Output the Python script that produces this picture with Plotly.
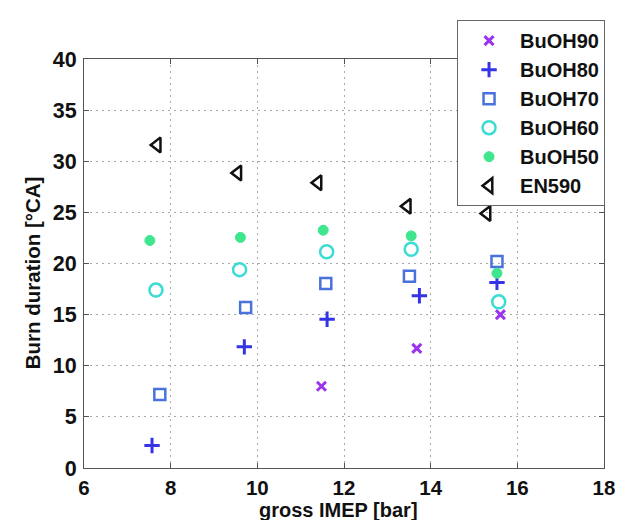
import plotly.graph_objects as go

# ---- data ----
x_buoh90 = [11.48, 13.68, 15.61]
y_buoh90 = [8.0, 11.7, 15.0]

x_buoh80 = [7.57, 9.70, 11.61, 13.74, 15.53]
y_buoh80 = [2.2, 11.85, 14.55, 16.85, 18.15]

x_buoh70 = [7.75, 9.73, 11.58, 13.51, 15.53]
y_buoh70 = [7.2, 15.7, 18.05, 18.75, 20.2]

x_buoh60 = [7.66, 9.59, 11.60, 13.55, 15.57]
y_buoh60 = [17.4, 19.4, 21.15, 21.4, 16.25]

x_buoh50 = [7.52, 9.61, 11.52, 13.55, 15.53]
y_buoh50 = [22.25, 22.55, 23.25, 22.7, 19.05]

x_en590 = [7.69, 9.55, 11.40, 13.46, 15.30]
y_en590 = [31.6, 28.85, 27.9, 25.6, 24.9]

x_ticks = [6, 8, 10, 12, 14, 16, 18]
y_ticks = [0, 5, 10, 15, 20, 25, 30, 35, 40]

x_title = "gross IMEP [bar]"
y_title = "Burn duration [°CA]"

FONT = "Liberation Sans, Arial, sans-serif"
BOLD = dict(family=FONT, color="#111111", weight="bold")

fig = go.Figure()

fig.add_trace(go.Scatter(x=x_buoh90, y=y_buoh90, mode="markers", name="BuOH90",
                         marker=dict(symbol="x-thin-open", size=9, color="#9b34ef",
                                     line=dict(color="#9b34ef", width=3))))
fig.add_trace(go.Scatter(x=x_buoh80, y=y_buoh80, mode="markers", name="BuOH80",
                         marker=dict(symbol="cross-thin-open", size=11, color="#3434e6",
                                     line=dict(color="#3434e6", width=3))))
fig.add_trace(go.Scatter(x=x_buoh70, y=y_buoh70, mode="markers", name="BuOH70",
                         marker=dict(symbol="square-open", size=11, color="#4a72dd",
                                     line=dict(color="#4a72dd", width=2.5))))
fig.add_trace(go.Scatter(x=x_buoh60, y=y_buoh60, mode="markers", name="BuOH60",
                         marker=dict(symbol="circle-open", size=13, color="#3adcd4",
                                     line=dict(color="#3adcd4", width=2.5))))
fig.add_trace(go.Scatter(x=x_buoh50, y=y_buoh50, mode="markers", name="BuOH50",
                         marker=dict(symbol="circle", size=10, color="#40e68e",
                                     line=dict(color="#40e68e", width=1))))
fig.add_trace(go.Scatter(x=x_en590, y=y_en590, mode="markers", name="EN590",
                         marker=dict(symbol="triangle-left-open", size=13, color="#111111",
                                     line=dict(color="#111111", width=2.5))))

axis_common = dict(
    showline=True, linecolor="#555555", linewidth=1, mirror="ticks",
    showgrid=True, gridcolor="#a8a8a8", griddash="2px,4px", gridwidth=1,
    ticks="inside", ticklen=5, tickcolor="#555555",
    zeroline=False,
)

fig.update_xaxes(range=[6, 18], tickvals=x_ticks, ticktext=[str(v) for v in x_ticks],
                 ticklabelstandoff=1, tickfont=dict(size=20.5, **BOLD), **axis_common)
fig.update_yaxes(range=[0, 40], tickvals=y_ticks, ticktext=[str(v) for v in y_ticks],
                 ticklabelstandoff=2, tickfont=dict(size=21.5, **BOLD), **axis_common)

fig.add_annotation(text=x_title, xref="paper", yref="paper", x=0.49, y=-0.1015,
                   xanchor="center", yanchor="middle", showarrow=False,
                   font=dict(size=20, **BOLD))
fig.add_annotation(text=y_title, xref="paper", yref="paper", x=-0.10, y=0.476,
                   xanchor="center", yanchor="middle", textangle=-90, showarrow=False,
                   font=dict(size=20.5, **BOLD))

fig.update_layout(
    width=623, height=520,
    margin=dict(l=76, r=27, t=41, b=60),
    paper_bgcolor="white", plot_bgcolor="white",
    showlegend=True,
    legend=dict(x=1.002, y=1.095, xanchor="right", yanchor="top",
                bgcolor="white", bordercolor="#666666", borderwidth=1,
                font=dict(size=20, **BOLD),
                itemwidth=52),
)

fig.write_html("out.html")
